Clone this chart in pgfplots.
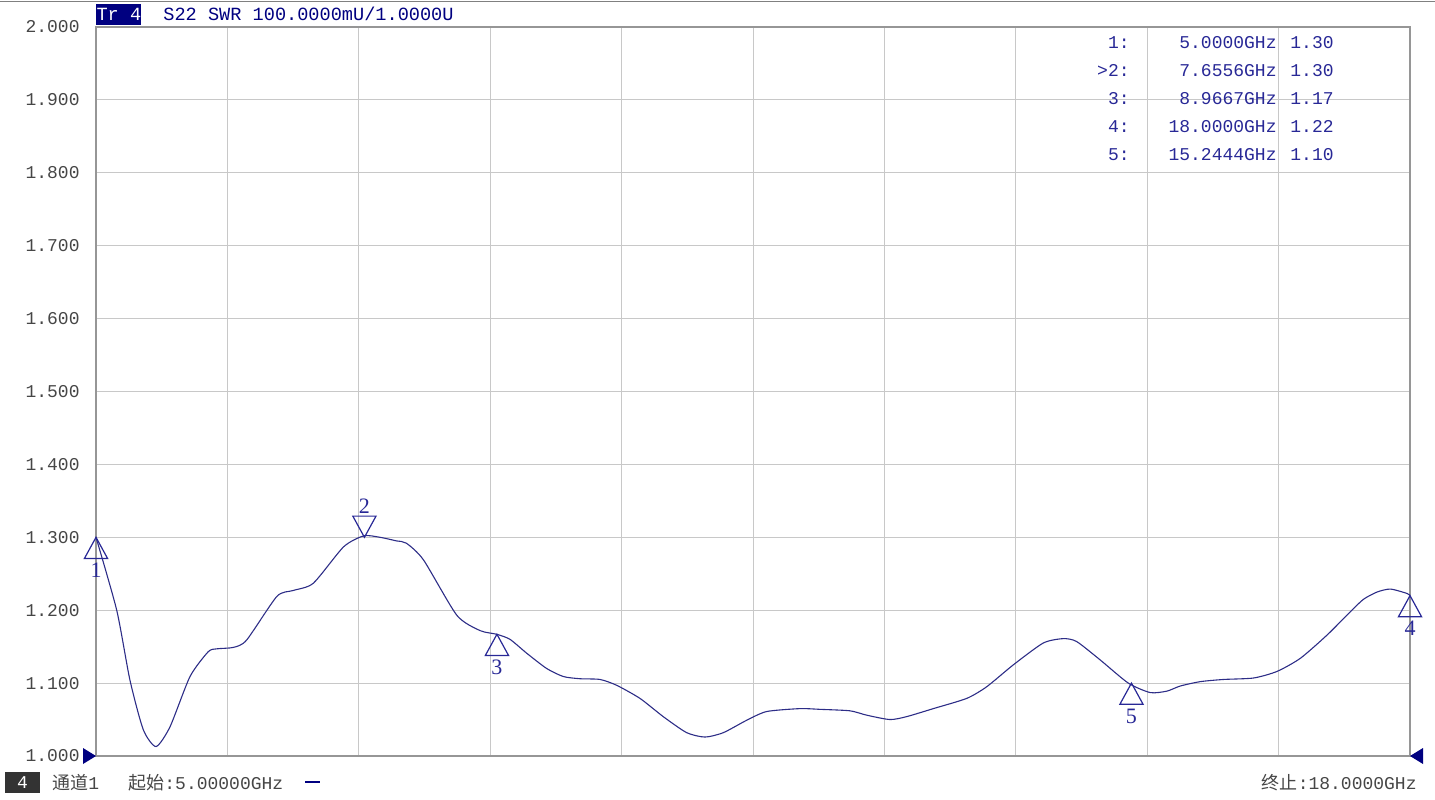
\documentclass[border=0pt]{standalone}
\usepackage{fontspec}
\setmainfont{Liberation Mono}
\newfontfamily\cjk{Noto Sans CJK SC}
\newfontfamily\mkfont{Liberation Serif}
\usepackage{pgfplots}
\pgfplotsset{compat=1.18}

\definecolor{trace}{RGB}{45,45,135}
\definecolor{navy}{RGB}{0,0,128}
\definecolor{mkblue}{RGB}{40,40,150}
\definecolor{gridc}{RGB}{200,200,200}
\definecolor{framec}{RGB}{150,150,150}
\definecolor{labc}{RGB}{70,70,70}
\definecolor{boxc}{RGB}{51,51,51}

% marker triangles, apex on the trace
\pgfdeclareplotmark{mkup}{%
  \pgfpathmoveto{\pgfpointorigin}%
  \pgfpathlineto{\pgfpoint{5.8pt}{-10.6pt}}%
  \pgfpathlineto{\pgfpoint{-5.8pt}{-10.6pt}}%
  \pgfpathclose
  \pgfusepathqstroke}
\pgfdeclareplotmark{mkdown}{%
  \pgfpathmoveto{\pgfpointorigin}%
  \pgfpathlineto{\pgfpoint{5.8pt}{10.6pt}}%
  \pgfpathlineto{\pgfpoint{-5.8pt}{10.6pt}}%
  \pgfpathclose
  \pgfusepathqstroke}

\begin{document}
\begin{tikzpicture}
\useasboundingbox (-48pt,-21.5pt) rectangle (669.5pt,378pt);
\begin{axis}[
    at={(0,0)}, anchor=south west,
    scale only axis,
    width=657pt, height=364.5pt,
    xmin=5, xmax=18, ymin=1, ymax=2,
    xtick={5,6.3,7.6,8.9,10.2,11.5,12.8,14.1,15.4,16.7,18},
    ytick={1,1.1,1.2,1.3,1.4,1.5,1.6,1.7,1.8,1.9,2},
    xticklabels={},
    yticklabel style={font=\fontsize{9}{10}\selectfont, text=labc,
        inner sep=0pt, anchor=east, xshift=-8pt,
        /pgf/number format/.cd, fixed, fixed zerofill, precision=3,
        assume math mode=true},
    grid=major,
    major grid style={gridc, line width=0.5pt},
    axis line style={framec, line width=1pt},
    major tick length=0pt,
    clip=false,
]

\addplot[trace, line width=0.55pt, smooth, tension=0.4] coordinates {
    (5.000,1.300) (5.205,1.200) (5.336,1.104) (5.468,1.036) (5.594,1.013)
    (5.732,1.040) (5.930,1.109) (6.110,1.143) (6.194,1.147) (6.360,1.149)
    (6.490,1.159) (6.790,1.219) (6.950,1.227) (7.150,1.237) (7.450,1.287)
    (7.650,1.302) (7.810,1.300) (7.975,1.295) (8.070,1.292) (8.240,1.269)
    (8.570,1.193) (8.800,1.172) (8.964,1.167) (9.096,1.160) (9.261,1.141)
    (9.459,1.120) (9.624,1.109) (9.788,1.106) (9.986,1.105) (10.151,1.097)
    (10.382,1.079) (10.612,1.054) (10.844,1.032) (11.025,1.026) (11.206,1.032)
    (11.437,1.049) (11.635,1.061) (11.965,1.065) (12.163,1.064) (12.459,1.062)
    (12.625,1.056) (12.855,1.050) (13.020,1.054) (13.284,1.065) (13.614,1.079)
    (13.812,1.095) (14.075,1.125) (14.372,1.155) (14.570,1.161) (14.702,1.157)
    (14.933,1.132) (15.213,1.100) (15.430,1.087) (15.595,1.089) (15.727,1.096)
    (15.925,1.102) (16.156,1.105) (16.453,1.107) (16.684,1.116) (16.915,1.134)
    (17.180,1.166) (17.410,1.198) (17.540,1.215) (17.675,1.225) (17.806,1.229)
    (17.970,1.223) (18.000,1.220)
};

% markers below the trace
\addplot[only marks, mark=mkup, mark options={draw=mkblue, line width=0.6pt},
    nodes near coords, point meta=explicit symbolic,
    every node near coord/.append style={anchor=north, yshift=-12.5pt,
        inner sep=0pt, font=\mkfont\fontsize{11}{12}\selectfont, text=mkblue}]
    coordinates {(5,1.30) [1] (8.9667,1.167) [3] (18,1.22) [4] (15.2444,1.10) [5]};

% marker 2 above the trace
\addplot[only marks, mark=mkdown, mark options={draw=mkblue, line width=0.6pt},
    nodes near coords, point meta=explicit symbolic,
    every node near coord/.append style={anchor=south, yshift=11.5pt,
        inner sep=0pt, font=\mkfont\fontsize{11}{12}\selectfont, text=mkblue}]
    coordinates {(7.6556,1.30) [2]};
\end{axis}

% frame of the screenshot
\draw[gray, line width=0.5pt] (-48pt,377pt) -- (669.5pt,377pt);

% header
\node[fill=navy, text=white, inner sep=0pt, minimum width=22.5pt, minimum height=10.5pt,
      anchor=south west, font=\fontsize{9.3}{10}\selectfont] at (0pt,365.5pt) {Tr 4};
\node[anchor=base west, inner sep=0pt, text=navy, font=\fontsize{9.3}{10}\selectfont]
      at (33.5pt,367.5pt) {S22 SWR 100.0000mU/1.0000U};

% marker table
\begin{scope}[every node/.style={inner sep=0pt, text=mkblue, font=\fontsize{9}{10}\selectfont}]
\node[anchor=base east] at (517pt,353.75pt) {1:};
\node[anchor=base east] at (590.5pt,353.75pt) {5.0000GHz};
\node[anchor=base west] at (597pt,353.75pt) {1.30};
\node[anchor=base east] at (517pt,339.75pt) {>2:};
\node[anchor=base east] at (590.5pt,339.75pt) {7.6556GHz};
\node[anchor=base west] at (597pt,339.75pt) {1.30};
\node[anchor=base east] at (517pt,325.75pt) {3:};
\node[anchor=base east] at (590.5pt,325.75pt) {8.9667GHz};
\node[anchor=base west] at (597pt,325.75pt) {1.17};
\node[anchor=base east] at (517pt,311.75pt) {4:};
\node[anchor=base east] at (590.5pt,311.75pt) {18.0000GHz};
\node[anchor=base west] at (597pt,311.75pt) {1.22};
\node[anchor=base east] at (517pt,297.75pt) {5:};
\node[anchor=base east] at (590.5pt,297.75pt) {15.2444GHz};
\node[anchor=base west] at (597pt,297.75pt) {1.10};
\end{scope}

% start / stop arrows on the axis ends
\fill[navy] (0pt,0pt) -- (-6.5pt,4pt) -- (-6.5pt,-4pt) -- cycle;
\fill[navy] (657pt,0pt) -- (663.5pt,4pt) -- (663.5pt,-4pt) -- cycle;

% footer
\node[fill=boxc, text=white, inner sep=0pt, minimum width=17.5pt, minimum height=10.5pt,
      font=\fontsize{9}{10}\selectfont] at (-36.75pt,-13.25pt) {4};
\node[anchor=west, inner sep=0pt, text=labc, font=\fontsize{9}{10}\selectfont]
      at (-22pt,-13.5pt) {{\cjk 通道}1};
\node[anchor=west, inner sep=0pt, text=labc, font=\fontsize{9}{10}\selectfont]
      at (16pt,-13.5pt) {{\cjk 起始}:5.00000GHz};
\draw[navy, line width=0.6pt] (104.5pt,-13pt) -- (112pt,-13pt);
\node[anchor=east, inner sep=0pt, text=labc, font=\fontsize{9}{10}\selectfont]
      at (660.5pt,-13.5pt) {{\cjk 终止}:18.0000GHz};
\end{tikzpicture}
\end{document}
